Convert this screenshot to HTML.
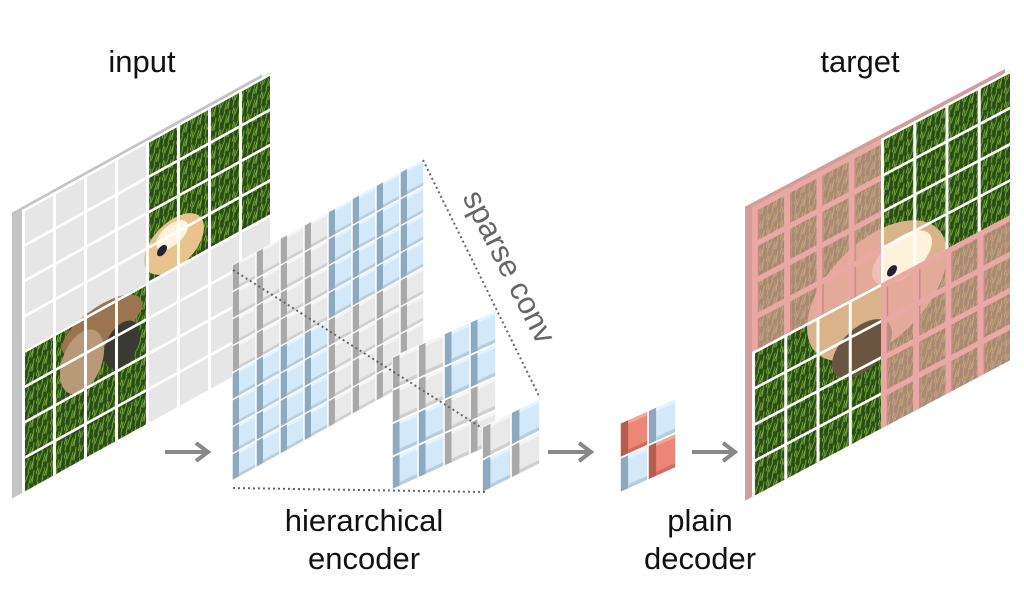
<!DOCTYPE html>
<html><head><meta charset="utf-8"><style>
html,body{margin:0;padding:0;background:#fff;width:1024px;height:592px;overflow:hidden}
svg{display:block}
text{font-family:"Liberation Sans",sans-serif}
</style></head><body>
<svg width="1024" height="592" viewBox="0 0 1024 592" xmlns="http://www.w3.org/2000/svg">
<defs>
  <pattern id="grass" patternUnits="userSpaceOnUse" width="14" height="14">
    <rect width="14" height="14" fill="#2a4d16"/>
    <path d="M1 13 L3 2 M6 14 L9 4 M10 13 L12 1 M3 8 L7 0" stroke="#6a9e34" stroke-width="1.2"/>
    <path d="M0 6 L2 0 M8 12 L11 6" stroke="#9cc64c" stroke-width="0.8"/>
  </pattern>
  <pattern id="gIn" patternUnits="userSpaceOnUse" width="31" height="35.375">
    <path d="M1.5 0V35.4M0 1.5H31" stroke="#fff" stroke-width="3"/>
  </pattern>
  <pattern id="gT" patternUnits="userSpaceOnUse" width="32.25" height="36.25">
    <path d="M1.5 0V36.3M0 1.5H32.3" stroke="#fff" stroke-width="3"/>
  </pattern>
  <pattern id="gTp" patternUnits="userSpaceOnUse" width="32.25" height="36.25">
    <path d="M3 0V36.3M0 3H32.3" stroke="#e9a8a3" stroke-width="6"/>
    <path d="M6.5 6V36.3" stroke="#c98a86" stroke-width="1.5"/>
  </pattern>
  <g id="tg"><rect width="100" height="100" fill="#fff"/><rect x="3" y="3" width="94" height="94" fill="#e9e9e9"/><rect x="3" y="3" width="26" height="94" fill="#a9a9a9"/><rect x="29" y="3" width="68" height="10" fill="#f5f5f5"/><rect x="29" y="86" width="68" height="11" fill="#cfcfcf"/></g>
  <g id="tb"><rect width="100" height="100" fill="#fff"/><rect x="3" y="3" width="94" height="94" fill="#d3e9f9"/><rect x="3" y="3" width="26" height="94" fill="#8ea8bd"/><rect x="29" y="3" width="68" height="10" fill="#e6f3fc"/><rect x="29" y="86" width="68" height="11" fill="#b5cde0"/></g>
  <g id="tr"><rect width="100" height="100" fill="#fff"/><rect x="3" y="3" width="94" height="94" fill="#ec8676"/><rect x="3" y="3" width="26" height="94" fill="#b45d50"/><rect x="29" y="3" width="68" height="10" fill="#f4a597"/><rect x="29" y="86" width="68" height="11" fill="#cf6e60"/></g>
  <pattern id="bg1" patternUnits="userSpaceOnUse" width="24" height="27" viewBox="0 0 100 100" preserveAspectRatio="none"><use href="#tg"/></pattern>
  <pattern id="bb1" patternUnits="userSpaceOnUse" width="24" height="27" viewBox="0 0 100 100" preserveAspectRatio="none"><use href="#tb"/></pattern>
  <pattern id="bg2" patternUnits="userSpaceOnUse" width="26" height="33.25" viewBox="0 0 100 100" preserveAspectRatio="none"><use href="#tg"/></pattern>
  <pattern id="bb2" patternUnits="userSpaceOnUse" width="26" height="33.25" viewBox="0 0 100 100" preserveAspectRatio="none"><use href="#tb"/></pattern>
</defs>

<!-- INPUT PANEL -->
<g transform="matrix(1,-0.553,0,1,22,210)">
  <rect x="-10" y="-3" width="250" height="286" fill="#c4c4c4"/>
  <rect x="0" y="0" width="248" height="283" fill="#e6e6e6"/>
  <rect x="124" y="0" width="124" height="141.5" fill="url(#grass)"/>
  <rect x="0" y="141.5" width="124" height="141.5" fill="url(#grass)"/>
  <ellipse cx="152" cy="118" rx="30" ry="26" fill="#e8c38c"/>
  <ellipse cx="150" cy="108" rx="16" ry="12" fill="#fff3dc"/>
  <circle cx="140" cy="118" r="5" fill="#223"/>
  <ellipse cx="80" cy="160" rx="40" ry="22" fill="#9a7550"/>
  <ellipse cx="60" cy="185" rx="22" ry="30" fill="#b89a78"/>
  <ellipse cx="100" cy="190" rx="18" ry="22" fill="#3a3a35"/>
  <rect width="248" height="283" fill="url(#gIn)"/>
</g>

<!-- TARGET PANEL -->
<g transform="matrix(1,-0.53,0,1,752,207)">
  <rect x="-7" y="-4" width="260" height="294" fill="#d39d99"/>
  <rect x="0" y="0" width="258" height="290" fill="url(#grass)"/>
  <ellipse cx="125" cy="150" rx="70" ry="60" fill="#d9b48a"/>
  <ellipse cx="150" cy="130" rx="30" ry="22" fill="#fff2dc"/>
  <circle cx="140" cy="138" r="5" fill="#223"/>
  <ellipse cx="110" cy="200" rx="30" ry="25" fill="#6a5540"/>
  <rect width="258" height="290" fill="url(#gT)"/>
  <rect x="0" y="0" width="129" height="145" fill="rgba(232,165,160,0.68)"/>
  <rect x="129" y="145" width="129" height="145" fill="rgba(232,165,160,0.68)"/>
  <rect x="0" y="0" width="129" height="145" fill="url(#gTp)"/>
  <rect x="129" y="145" width="129" height="145" fill="url(#gTp)"/>
</g>

<!-- ENCODER big -->
<g transform="matrix(1,-0.553,0,1,232,265)">
  <rect width="192" height="216" fill="url(#bg1)"/>
  <rect x="96" y="0" width="96" height="108" fill="url(#bb1)"/>
  <rect x="0" y="108" width="96" height="108" fill="url(#bb1)"/>
</g>
<!-- medium -->
<g transform="matrix(1,-0.45,0,1,392,357)">
  <rect width="104" height="133" fill="url(#bg2)"/>
  <rect x="52" y="0" width="52" height="66.5" fill="url(#bb2)"/>
  <rect x="0" y="66.5" width="52" height="66.5" fill="url(#bb2)"/>
</g>
<!-- small -->
<g transform="matrix(1,-0.5,0,1,482,427)">
  <svg width="29" height="33" viewBox="0 0 100 100" preserveAspectRatio="none"><use href="#tg"/></svg>
  <svg x="29" width="29" height="33" viewBox="0 0 100 100" preserveAspectRatio="none"><use href="#tb"/></svg>
  <svg y="33" width="29" height="33" viewBox="0 0 100 100" preserveAspectRatio="none"><use href="#tb"/></svg>
  <svg x="29" y="33" width="29" height="33" viewBox="0 0 100 100" preserveAspectRatio="none"><use href="#tg"/></svg>
</g>
<!-- decoder -->
<g transform="matrix(1,-0.45,0,1,620,423)">
  <svg width="28" height="35" viewBox="0 0 100 100" preserveAspectRatio="none"><use href="#tr"/></svg>
  <svg x="28" width="28" height="35" viewBox="0 0 100 100" preserveAspectRatio="none"><use href="#tb"/></svg>
  <svg y="35" width="28" height="35" viewBox="0 0 100 100" preserveAspectRatio="none"><use href="#tb"/></svg>
  <svg x="28" y="35" width="28" height="35" viewBox="0 0 100 100" preserveAspectRatio="none"><use href="#tr"/></svg>
</g>

<g stroke="#666" stroke-width="2" stroke-dasharray="2 3" fill="none">
  <path d="M423 160 L540 398"/>
  <path d="M233 270 L482 428"/>
  <path d="M233 488 L485 492"/>
</g>

<g stroke="#888" stroke-width="4" fill="none">
  <path d="M165 452H206M196 443L208 452L196 461"/>
  <path d="M548 452H589M579 443L591 452L579 461"/>
  <path d="M692 452H733M723 443L735 452L723 461"/>
</g>

<text x="142" y="72" font-size="31" text-anchor="middle" fill="#111">input</text>
<text x="860" y="72" font-size="31" text-anchor="middle" fill="#111">target</text>
<text x="364" y="531" font-size="31" text-anchor="middle" fill="#111">hierarchical</text>
<text x="364" y="569" font-size="31" text-anchor="middle" fill="#111">encoder</text>
<text x="700" y="531" font-size="31" text-anchor="middle" fill="#111">plain</text>
<text x="700" y="569" font-size="31" text-anchor="middle" fill="#111">decoder</text>
<text transform="translate(462,197) rotate(63)" font-size="31" fill="#666">sparse conv</text>
</svg>
</body></html>
